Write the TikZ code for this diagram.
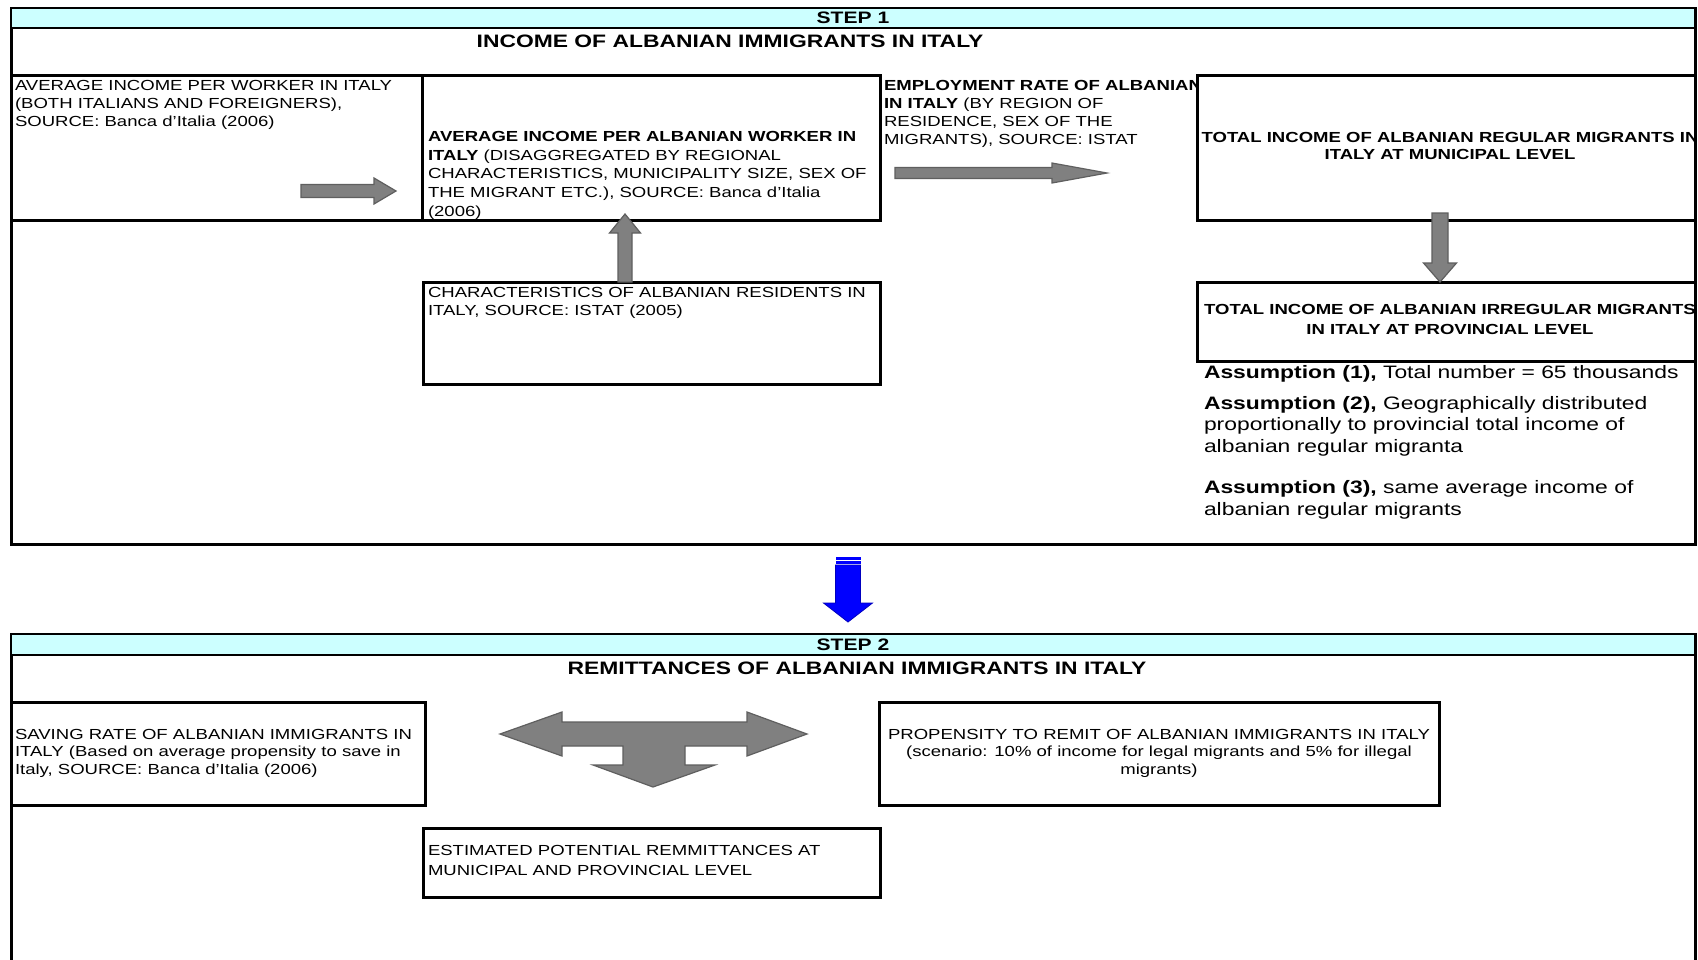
\documentclass[tikz,border=0pt]{standalone}
\usepackage{fontspec}
\setmainfont{Liberation Sans}[FakeStretch=1.27]
\usetikzlibrary{fit}
\definecolor{hdrcyan}{RGB}{204,255,255}
\definecolor{arrgray}{RGB}{128,128,128}
\definecolor{arredge}{RGB}{95,95,95}
\definecolor{stepblue}{RGB}{0,0,255}
\tikzset{
  framest/.style={draw=black, line width=1.5pt, inner sep=0pt, outer sep=0pt},
  hdrst/.style={draw=black, line width=1.1pt, fill=hdrcyan, inner sep=0pt, outer sep=0pt},
  boxst/.style={draw=black, line width=1.5pt, fill=white, inner sep=0pt, outer sep=0pt},
  tx/.style={inner sep=0pt, outer sep=0pt, align=left, anchor=north west, font=\fontsize{7.3}{8.9}\selectfont},
  tc/.style={inner sep=0pt, outer sep=0pt, align=center, anchor=north, font=\fontsize{7.3}{8.7}\selectfont\bfseries},
  ta/.style={inner sep=0pt, outer sep=0pt, align=left, anchor=north west, font=\fontsize{9}{10.8}\selectfont},
  stepst/.style={inner sep=0pt, font=\fontsize{8.3}{10}\selectfont\bfseries},
  titlest/.style={inner sep=0pt, font=\fontsize{9}{11}\selectfont\bfseries},
  garrow/.style={fill=arrgray, draw=arredge, line width=0.6pt, line join=miter},
}
% right-pointing block arrow: x1, x2(tip), y, body half, head half, head length
\newcommand{\myRarrow}[6]{%
  \filldraw[garrow] (#1,#3-#4) -- (#2-#6,#3-#4) -- (#2-#6,#3-#5) -- (#2,#3)
    -- (#2-#6,#3+#5) -- (#2-#6,#3+#4) -- (#1,#3+#4) -- cycle;}
% vertical block arrow: x, y tail, y head base, y tip, body half, head half
\newcommand{\myVarrow}[6]{%
  \filldraw[garrow] (#1-#5,#2) -- (#1-#5,#3) -- (#1-#6,#3) -- (#1,#4)
    -- (#1+#6,#3) -- (#1+#5,#3) -- (#1+#5,#2) -- cycle;}
\begin{document}
\begin{tikzpicture}[x=0.5pt,y=-0.5pt]
\useasboundingbox (0,0) rectangle (1698,959);
\fill[white] (0,0) rectangle (1698,959);
\begin{scope}
\clip (0,0) rectangle (1698,959);

% ---------------- STEP 1 ----------------
\node[framest, fit={(11,8)(1695,544)}] (frameA) {};
\node[hdrst, fit={(11,8)(1695,28)}] (hdrA) {};
\node[stepst] (stepA) at (853,18) {STEP 1};
\node[titlest] (titleA) at (730,41) {INCOME OF ALBANIAN IMMIGRANTS IN ITALY};

\node[tx, font=\fontsize{7.3}{9}\selectfont] (emprate) at (884,80.5)
  {\textbf{EMPLOYMENT RATE OF ALBANIAN}\\\textbf{IN ITALY} (BY REGION OF\\RESIDENCE, SEX OF THE\\MIGRANTS), SOURCE: ISTAT};

\node[boxst, fit={(11,75)(422,220)}] (avginc) {};
\node[boxst, fit={(422,75)(880,220)}] (albinc) {};
\node[boxst, fit={(1197,75)(1695,220)}] (regtot) {};
\node[boxst, fit={(423,282)(880,384)}] (charres) {};
\node[boxst, fit={(1197,282)(1695,361)}] (irrtot) {};

\node[tx] (avgincT) at (15,80.5)
  {AVERAGE INCOME PER WORKER IN ITALY\\(BOTH ITALIANS AND FOREIGNERS),\\SOURCE: Banca d'Italia (2006)};
\node[tx, font=\fontsize{7.3}{9.35}\selectfont] (albincT) at (428,131.3)
  {\textbf{AVERAGE INCOME PER ALBANIAN WORKER IN}\\\textbf{ITALY} (DISAGGREGATED BY REGIONAL\\CHARACTERISTICS, MUNICIPALITY SIZE, SEX OF\\THE MIGRANT ETC.), SOURCE: Banca d'Italia\\(2006)};
\begin{scope}
\clip (1197,75) rectangle (1695,220);
\node[tc] (regtotT) at (1450,132.3)
  {TOTAL INCOME OF ALBANIAN REGULAR MIGRANTS IN\\ITALY AT MUNICIPAL LEVEL};
\end{scope}
\node[tx, font=\fontsize{7.3}{9.2}\selectfont] (charresT) at (428,287.2)
  {CHARACTERISTICS OF ALBANIAN RESIDENTS IN\\ITALY, SOURCE: ISTAT (2005)};
\begin{scope}
\clip (1197,282) rectangle (1695,361);
\node[tc, font=\fontsize{7.3}{9.75}\selectfont\bfseries] (irrtotT) at (1450,304.5)
  {TOTAL INCOME OF ALBANIAN IRREGULAR MIGRANTS\\IN ITALY AT PROVINCIAL LEVEL};
\end{scope}

\node[ta] (ass1) at (1204,365) {\textbf{Assumption (1),} Total number = 65 thousands};
\node[ta] (ass2) at (1204,396) {\textbf{Assumption (2),} Geographically distributed\\proportionally to provincial total income of\\albanian regular migranta};
\node[ta] (ass3) at (1204,480.5) {\textbf{Assumption (3),} same average income of\\albanian regular migrants};

% block arrows of step 1
\myRarrow{301}{396}{191}{6.5}{13}{22}
\myRarrow{895}{1107}{173}{5.5}{10}{55}
\myVarrow{625}{282}{233}{214}{7}{15.5}
\myVarrow{1440}{213}{263}{282}{8}{16.5}

% ---------------- blue arrow ----------------
\fill[stepblue] (835.5,557) rectangle (860.5,559.5);
\fill[stepblue] (835.5,561) rectangle (860.5,563.5);
\filldraw[fill=stepblue, draw=stepblue!75!black, line width=0.4pt]
  (835.5,565) -- (835.5,603) -- (823.5,603) -- (848,622) -- (872.5,603) -- (860.5,603) -- (860.5,565) -- cycle;

% ---------------- STEP 2 ----------------
\node[framest, fit={(11,634)(1695,990)}] (frameB) {};
\node[hdrst, fit={(11,634)(1695,655)}] (hdrB) {};
\node[stepst] (stepB) at (853,644.5) {STEP 2};
\node[titlest] (titleB) at (857,668) {REMITTANCES OF ALBANIAN IMMIGRANTS IN ITALY};

\node[boxst, fit={(11,702)(425,805)}] (saving) {};
\node[boxst, fit={(879,702)(1439,805)}] (remit) {};
\node[boxst, fit={(423,828)(880,897)}] (estim) {};

\node[tx, font=\fontsize{7.3}{8.7}\selectfont] (savingT) at (15,729)
  {SAVING RATE OF ALBANIAN IMMIGRANTS IN\\ITALY (Based on average propensity to save in\\Italy, SOURCE: Banca d'Italia (2006)};
\node[tc, font=\fontsize{7.3}{8.7}\selectfont] (remitT) at (1159,729)
  {PROPENSITY TO REMIT OF ALBANIAN IMMIGRANTS IN ITALY\\(scenario: 10\% of income for legal migrants and 5\% for illegal\\migrants)};
\node[tx, font=\fontsize{7.3}{9.75}\selectfont] (estimT) at (428,845.5)
  {ESTIMATED POTENTIAL REMMITTANCES AT\\MUNICIPAL AND PROVINCIAL LEVEL};

% T-shaped block arrow
\filldraw[garrow] (500,734) -- (562,712) -- (562,722) -- (747,722) -- (747,712) -- (807,734)
  -- (747,756) -- (747,746) -- (685,746) -- (685,765) -- (715,765) -- (653,787)
  -- (593,765) -- (623,765) -- (623,746) -- (562,746) -- (562,756) -- cycle;
\end{scope}
\end{tikzpicture}
\end{document}
